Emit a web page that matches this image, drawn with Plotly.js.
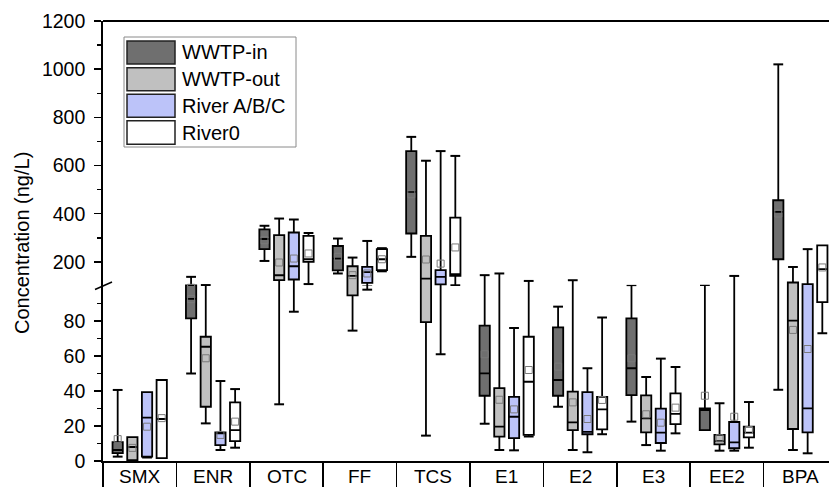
<!DOCTYPE html>
<html><head><meta charset="utf-8">
<script src="https://cdn.plot.ly/plotly-3.0.1.min.js"></script>
<style>html,body{margin:0;padding:0;overflow:hidden;background:#fff}#chart{width:829px;height:487px}</style>
</head><body><div id="chart"></div>
<script>
// ---- data ----
const categories = ['SMX','ENR','OTC','FF','TCS','E1','E2','E3','EE2','BPA'];
const seriesNames = ['WWTP-in','WWTP-out','River A/B/C','River0'];

// WWTP-in
const inMin  = [2.5, 50, 204, 152, 221, 21.3, 31, 22.5, 17.7, 40.7];
const inQ1   = [4.5, 81.5, 253, 165, 318, 37.3, 37.3, 37.7, 17.7, 211];
const inMed  = [6.3, 92.6, 295, 214, 491, 50.1, 46.3, 53, 29.1, 408];
const inQ3   = [10.8, 103, 335, 266, 660, 77.3, 76.4, 81.5, 30.1, 456];
const inMax  = [40.6, 138, 350, 297, 719, 145, 88.2, 100.5, 101, 1020];
const inMean = [12.5, 92.5, 290, 221, 481, 61, 53.9, 58.7, 37.3, 401];
// WWTP-out
const outMin  = [0.5, 21.5, 32.4, 74.5, 14.5, 6.3, 6.3, 9.1, 5.9, 6.3];
const outQ1   = [0.5, 31, 124, 94.7, 79.3, 13.9, 17.7, 16.4, 9.5, 18.3];
const outMed  = [8, 65.3, 144.7, 142, 131, 19.6, 22.1, 24.4, 11.4, 80.2];
const outQ3   = [13.7, 71, 311, 182, 308, 41.7, 39.6, 37.5, 14.9, 114.5];
const outMax  = [13.7, 104, 380, 218, 620, 152, 124, 48, 33, 179];
const outMean = [7.5, 58.7, 197.5, 145, 210, 35, 33.5, 26.7, 13, 74.9];
// River A/B/C
const rivMin  = [2, 6.3, 85.3, 97.9, 61, 6.1, 5, 5.9, 5.9, 4.4];
const rivQ1   = [2.5, 9.1, 127, 113, 107, 13.1, 15.3, 10.3, 7.3, 16.4];
const rivMed  = [24.8, 15.8, 182, 158, 138, 25.3, 16.7, 16.2, 10.7, 30.1];
const rivQ3   = [39.4, 16.4, 322, 179, 165.5, 36.7, 39.4, 29.9, 22.3, 108];
const rivMax  = [39.4, 45.7, 376, 287, 660, 76, 53, 58.5, 141.8, 253];
const rivMean = [19.6, 14.9, 214, 152, 193, 29.5, 24, 21.9, 25.3, 64];
// River0
const r0Min  = [1.7, 7.6, 108, 161, 103, 14, 15.3, 15.8, 7.6, 73];
const r0Q1   = [1.7, 11.4, 200, 165.5, 142, 14.9, 18.1, 21.1, 13.5, 90.8];
const r0Med  = [24, 17.7, 211, 211, 149, 45.3, 29.5, 26.9, 16.2, 170];
const r0Q3   = [46.3, 33.5, 308, 253, 384, 71, 36.7, 38.7, 19.6, 269];
const r0Max  = [46.3, 41.1, 320, 257, 640, 121, 82, 53.7, 33.7, 269];
const r0Mean = [24.5, 22.5, 235, 211, 260, 52, 34.9, 30.5, 17.7, 177];

const lowerTicks = [0, 20, 40, 60, 80];
const upperTicks = [200, 400, 600, 800, 1000, 1200];

// ---- build ----
const fills = ['#6f6f6f', '#c0c0c0', '#bcc3f9', '#ffffff'];
const series = [
  {min: inMin, q1: inQ1, med: inMed, q3: inQ3, max: inMax, mean: inMean},
  {min: outMin, q1: outQ1, med: outMed, q3: outQ3, max: outMax, mean: outMean},
  {min: rivMin, q1: rivQ1, med: rivMed, q3: rivQ3, max: rivMax, mean: rivMean},
  {min: r0Min, q1: r0Q1, med: r0Med, q3: r0Q3, max: r0Max, mean: r0Mean}
];
const offsets = [-0.3, -0.1, 0.1, 0.3];
const traces = [];
['y', 'y2'].forEach(ya => {
  series.forEach((s, i) => {
    const xs = categories.map((c, k) => k + offsets[i]);
    traces.push({type: 'box', x: xs, q1: s.q1, median: s.med, q3: s.q3,
      lowerfence: s.min, upperfence: s.max, width: 0.14, xaxis: 'x', yaxis: ya,
      fillcolor: fills[i], line: {color: '#000', width: 1.8}, whiskerwidth: 0,
      boxpoints: false, hoverinfo: 'skip', showlegend: false, name: seriesNames[i]});
    const capX = [], capY = [];
    xs.forEach((x, k) => {
      if (s.max[k] > s.q3[k]) { capX.push(x); capY.push(s.max[k]); }
      if (s.min[k] < s.q1[k]) { capX.push(x); capY.push(s.min[k]); }
    });
    traces.push({type: 'scatter', mode: 'markers', x: capX, y: capY, xaxis: 'x', yaxis: ya,
      marker: {symbol: 'line-ew', size: 7, color: '#000', line: {color: '#000', width: 2}},
      hoverinfo: 'skip', showlegend: false});
    traces.push({type: 'scatter', mode: 'markers', x: xs, y: s.mean, xaxis: 'x', yaxis: ya,
      marker: {symbol: 'square-open', size: 7, color: '#7a7a7a', line: {width: 1}},
      hoverinfo: 'skip', showlegend: false});
  });
});

// pixel helpers for layout decorations
const L = 103, T = 21, PW = 726, PH = 440;
const px = x => (x - L) / PW;
const py = y => (T + PH - y) / PH;

const shapes = [
  {type: 'line', xref: 'paper', yref: 'paper', x0: 0, x1: 1, y0: 1, y1: 1, line: {color: '#000', width: 1.8}},
  {type: 'line', xref: 'paper', yref: 'paper', x0: px(95), x1: px(112), y0: py(289.5), y1: py(282), line: {color: '#000', width: 1.5}},
  {type: 'rect', xref: 'paper', yref: 'paper', x0: px(124), x1: px(296), y0: py(147), y1: py(37), line: {color: '#8a8a8a', width: 1}, fillcolor: 'rgba(255,255,255,0)'}
];
const rows = [[41, 64], [67.7, 90.7], [94.3, 117.3], [120.7, 144.3]];
const annotations = [
  {xref: 'paper', yref: 'paper', x: px(22), y: py(243), text: 'Concentration (ng/L)', textangle: -90,
   showarrow: false, xanchor: 'center', yanchor: 'middle', font: {size: 20}}
];
rows.forEach((r, i) => {
  shapes.push({type: 'rect', xref: 'paper', yref: 'paper', x0: px(127), x1: px(175), y0: py(r[1]), y1: py(r[0]),
    line: {color: '#222', width: 1.5}, fillcolor: fills[i]});
  annotations.push({xref: 'paper', yref: 'paper', x: px(180), y: py((r[0] + r[1]) / 2), text: seriesNames[i],
    showarrow: false, xanchor: 'left', yanchor: 'middle', font: {size: 20}});
});
// category labels placed as annotations so they sit fully inside the picture
categories.forEach((c, k) => {
  annotations.push({xref: 'x', yref: 'paper', x: k, y: py(476.5), text: c, showarrow: false,
    xanchor: 'center', yanchor: 'middle', font: {size: 19}});
});

const axisCommon = {showline: true, linecolor: '#000', linewidth: 1.8, showgrid: false, zeroline: false,
  ticks: 'outside', ticklen: 7, tickwidth: 1.5, tickcolor: '#000', fixedrange: true,
  ticklabelstandoff: 5, tickfont: {size: 19.5}};

const layout = {
  width: 829, height: 487, margin: {l: L, r: 0, t: T, b: 26},
  paper_bgcolor: '#fff', plot_bgcolor: '#fff',
  font: {family: 'Liberation Sans, Arial, sans-serif', size: 18, color: '#000'},
  boxmode: 'overlay', showlegend: false,
  xaxis: {range: [-0.5, 9.391], tickmode: 'array', tickvals: categories.map((c, k) => k), showticklabels: false,
    ticks: '', showline: true, linecolor: '#000', linewidth: 1.8, showgrid: false, zeroline: false, anchor: 'y',
    minor: {tickmode: 'linear', tick0: -0.5, dtick: 1, ticks: 'outside', ticklen: 30, tickwidth: 1.5, tickcolor: '#000'},
    fixedrange: true},
  yaxis: Object.assign({}, axisCommon, {domain: [0, 175 / 440], range: [0, 100], tickmode: 'array', tickvals: lowerTicks,
    minor: {tickmode: 'array', tickvals: [10, 30, 50, 70, 90], ticks: 'outside', ticklen: 4, tickwidth: 1.5, tickcolor: '#000'}}),
  yaxis2: Object.assign({}, axisCommon, {domain: [175 / 440, 1], range: [100, 1200], anchor: 'x', tickmode: 'array', tickvals: upperTicks,
    minor: {tickmode: 'array', tickvals: [300, 500, 700, 900, 1100], ticks: 'outside', ticklen: 4, tickwidth: 1.5, tickcolor: '#000'}}),
  shapes: shapes, annotations: annotations
};

Plotly.newPlot('chart', traces, layout, {displayModeBar: false, staticPlot: true});
</script>
</body></html>
